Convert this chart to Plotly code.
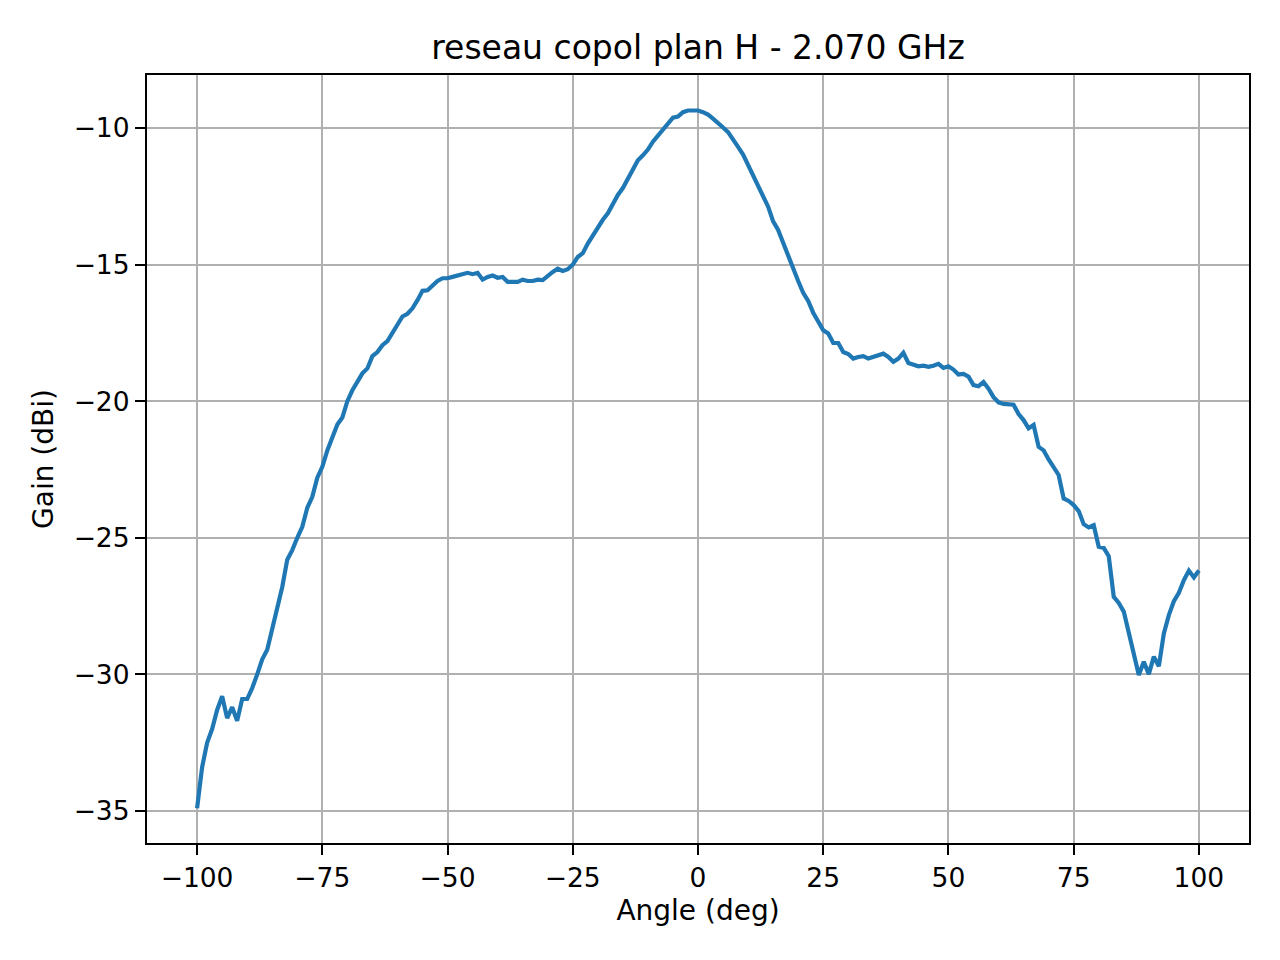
import plotly.graph_objects as go

# angle en degres, pas de 1 deg
angle = list(range(-100, 101))

gain = [
    -34.9, -33.4, -32.5, -32.0, -31.3, -30.8, -31.6, -31.2, -31.7, -30.9,   # -100..-91
    -30.9, -30.5, -30.0, -29.45, -29.1, -28.35, -27.5, -26.8, -25.8, -25.45,  # -90..-81
    -25.0, -24.6, -23.9, -23.5, -22.8, -22.4, -21.8, -21.3, -20.85, -20.6,   # -80..-71
    -20.0, -19.6, -19.25, -18.98, -18.8, -18.35, -18.2, -17.95, -17.8, -17.5,  # -70..-61
    -17.2, -16.9, -16.8, -16.6, -16.3, -15.96, -15.94, -15.75, -15.6, -15.5,  # -60..-51
    -15.5, -15.45, -15.4, -15.37, -15.3, -15.35, -15.3, -15.55, -15.45, -15.4,  # -50..-41
    -15.48, -15.45, -15.63, -15.63, -15.63, -15.55, -15.6, -15.6, -15.55, -15.57,  # -40..-31
    -15.4, -15.27, -15.15, -15.23, -15.17, -15.0, -14.72, -14.58, -14.23, -13.93,  # -30..-21
    -13.65, -13.36, -13.12, -12.75, -12.45, -12.2, -11.85, -11.54, -11.18, -11.0,  # -20..-11
    -10.79, -10.5, -10.29, -10.08, -9.84, -9.62, -9.58, -9.42, -9.36, -9.35,  # -10..-1
    -9.36,                                                                   # 0
    -9.42, -9.51, -9.66, -9.8, -9.98, -10.15, -10.39, -10.69, -10.97, -11.36,  # 1..10
    -11.72, -12.09, -12.5, -12.88, -13.42, -13.73, -14.2, -14.7, -15.18, -15.6,  # 11..20
    -16.03, -16.33, -16.76, -17.12, -17.4, -17.52, -17.87, -17.87, -18.2, -18.27,  # 21..30
    -18.44, -18.38, -18.35, -18.44, -18.38, -18.32, -18.26, -18.38, -18.56, -18.44,  # 31..40
    -18.23, -18.6, -18.66, -18.72, -18.7, -18.74, -18.7, -18.63, -18.78, -18.72,  # 41..50
    -18.84, -19.02, -19.0, -19.1, -19.41, -19.45, -19.3, -19.54, -19.85, -20.04,  # 51..60
    -20.1, -20.13, -20.13, -20.47, -20.69, -20.99, -20.87, -21.67, -21.8, -22.13,  # 61..70
    -22.43, -22.7, -23.56, -23.65, -23.8, -24.02, -24.5, -24.62, -24.54, -25.33,  # 71..80
    -25.37, -25.67, -27.16, -27.38, -27.7, -28.5, -29.39, -30.02, -29.54, -29.99,  # 81..90
    -29.35, -29.7, -28.5, -27.83, -27.32, -27.01, -26.55, -26.2, -26.45, -26.2,  # 91..100
]

x_ticks = [-100, -75, -50, -25, 0, 25, 50, 75, 100]
y_ticks = [-35, -30, -25, -20, -15, -10]

fig = go.Figure()
fig.add_trace(go.Scatter(
    x=angle, y=gain, mode="lines",
    line=dict(color="#1f77b4", width=4.2),
    showlegend=False,
))

axe = dict(
    showline=True, linecolor="black", linewidth=2.2, mirror=True,
    showgrid=True, gridcolor="#b0b0b0", gridwidth=2.2,
    zeroline=False,
    ticks="outside", ticklen=10, tickwidth=2.2, tickcolor="black",
    tickfont=dict(size=26.5, color="black"),
)

# la page html decale la figure de 8 px (marge du body), on compense
fig.update_layout(
    width=1280, height=960,
    plot_bgcolor="white", paper_bgcolor="white",
    font=dict(family="DejaVu Sans", color="black"),
    margin=dict(l=139, r=39, t=67, b=125),
    title=dict(
        text="reseau copol plan H - 2.070 GHz",
        font=dict(size=33, color="black"),
        x=0.5, xref="paper", xanchor="center",
        y=1 - 39 / 960, yref="container", yanchor="middle",
    ),
)
fig.update_xaxes(
    axe, range=[-110, 110], tickvals=x_ticks,
    title=dict(text="Angle (deg)", font=dict(size=28), standoff=8),
)
fig.update_yaxes(
    axe, range=[-36.17, -8.06], tickvals=y_ticks,
    title=dict(text="Gain (dBi)", font=dict(size=28), standoff=12),
)

fig.write_html("out.html")
